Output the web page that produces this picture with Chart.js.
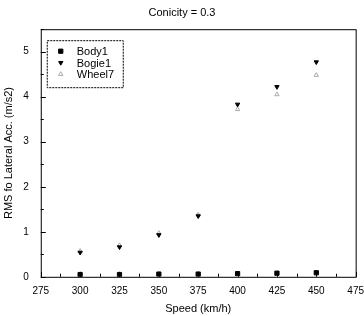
<!DOCTYPE html>
<html>
<head>
<meta charset="utf-8">
<script src="https://cdn.jsdelivr.net/npm/chart.js@4/dist/chart.umd.min.js"></script>
<style>
  html, body { margin: 0; padding: 0; background: #fff; }
  #wrap { width: 364px; height: 316px; }
</style>
</head>
<body>
<div id="wrap"><canvas id="rmsChart"></canvas></div>
<script>
// speeds in km/h
const speeds = [300, 325, 350, 375, 400, 425, 450];
// RMS of lateral acceleration (m/s2)
const body1 = [0.05, 0.05, 0.06, 0.06, 0.07, 0.08, 0.09];
const bogie1 = [0.54, 0.66, 0.93, 1.35, 3.83, 4.22, 4.77];
const wheel7 = [0.57, 0.70, 0.97, 1.38, 3.72, 4.05, 4.48];

const xTicks = [275, 300, 325, 350, 375, 400, 425, 450, 475];
const yTicks = [0, 1, 2, 3, 4, 5];

function toPoints(vals) {
    return speeds.map((s, i) => ({ x: s, y: vals[i] }));
}

const font = { family: 'Liberation Sans, Arial, sans-serif', size: 10 };

// frame, inward minor ticks and the legend box inside the plot
const framePlugin = {
    id: 'frame',
    afterDraw(chart) {
        const ctx = chart.ctx;
        const a = chart.chartArea;
        const xs = chart.scales.x, ys = chart.scales.y;
        ctx.save();
        ctx.strokeStyle = '#000';
        ctx.lineWidth = 1;
        ctx.strokeRect(a.left + 0.5, a.top + 0.5, a.right - a.left, a.bottom - a.top);
        ctx.beginPath();
        for (let v = 275; v <= 475; v += 12.5) {
            const px = Math.round(xs.getPixelForValue(v)) + 0.5;
            const len = (v % 25 === 0) ? 5 : 3;
            ctx.moveTo(px, a.bottom); ctx.lineTo(px, a.bottom - len);
        }
        for (let v = 0; v <= 5.5; v += 0.5) {
            const py = Math.round(ys.getPixelForValue(v)) + 0.5;
            const len = (v % 1 === 0) ? 5 : 3;
            ctx.moveTo(a.left, py); ctx.lineTo(a.left + len, py);
        }
        ctx.stroke();

        // legend
        const lx = a.left + 6, ly = a.top + 11;
        const w = 76, h = 47, rowH = 11.5;
        ctx.setLineDash([2, 1]);
        ctx.strokeRect(lx + 0.5, ly + 0.5, w, h);
        ctx.setLineDash([]);
        ctx.font = '11px ' + font.family;
        ctx.textBaseline = 'middle';
        chart.data.datasets.forEach((ds, i) => {
            const cy = ly + 11 + i * rowH;
            ctx.fillStyle = ds.pointBackgroundColor;
            ctx.strokeStyle = ds.pointBorderColor;
            ctx.lineWidth = ds.borderWidth;
            Chart.helpers.drawPoint(ctx, {
                pointStyle: ds.pointStyle,
                rotation: ds.pointRotation || 0,
                radius: ds.pointRadius,
                borderWidth: ds.borderWidth
            }, lx + 14, cy);
            ctx.fillStyle = '#000';
            ctx.fillText(ds.label, lx + 30, cy + 1);
        });
        ctx.restore();
    }
};

new Chart(document.getElementById('rmsChart'), {
    type: 'scatter',
    data: {
        datasets: [{
            label: 'Body1',
            data: toPoints(body1),
            pointStyle: 'rect',
            pointRadius: 3,
            pointBackgroundColor: '#000',
            pointBorderColor: '#000',
            borderWidth: 1
        }, {
            label: 'Bogie1',
            data: toPoints(bogie1),
            pointStyle: 'triangle',
            pointRotation: 180,
            pointRadius: 2.5,
            pointBackgroundColor: '#000',
            pointBorderColor: '#000',
            borderWidth: 1
        }, {
            label: 'Wheel7',
            data: toPoints(wheel7),
            pointStyle: 'triangle',
            pointRadius: 2.5,
            pointBackgroundColor: 'rgba(0,0,0,0)',
            pointBorderColor: '#aaa',
            borderWidth: 1
        }]
    },
    options: {
        responsive: true,
        maintainAspectRatio: false,
        animation: false,
        layout: { padding: { left: 0, right: 0, top: 0, bottom: 0 } },
        plugins: {
            legend: { display: false },
            tooltip: { enabled: false },
            title: {
                display: true,
                text: 'Conicity = 0.3',
                color: '#000',
                font: { family: font.family, size: 11, weight: 'normal' },
                padding: { top: 6, bottom: 10 }
            }
        },
        scales: {
            x: {
                type: 'linear',
                min: 275,
                max: 475,
                afterBuildTicks: axis => { axis.ticks = xTicks.map(v => ({ value: v })); },
                ticks: { color: '#000', font: font, padding: 0, maxRotation: 0 },
                grid: { display: false },
                border: { display: false },
                title: {
                    display: true,
                    text: 'Speed (km/h)',
                    color: '#000',
                    font: { family: font.family, size: 11 },
                    padding: { top: 6, bottom: 0 }
                }
            },
            y: {
                type: 'linear',
                min: 0,
                max: 5.5,
                afterBuildTicks: axis => { axis.ticks = yTicks.map(v => ({ value: v })); },
                ticks: { color: '#000', font: font, padding: 4 },
                grid: { display: false },
                border: { display: false },
                title: {
                    display: true,
                    text: 'RMS fo Lateral Acc. (m/s2)',
                    color: '#000',
                    font: { family: font.family, size: 11 },
                    padding: { top: 2, bottom: 4 }
                }
            }
        }
    },
    plugins: [framePlugin]
});
</script>
</body>
</html>
